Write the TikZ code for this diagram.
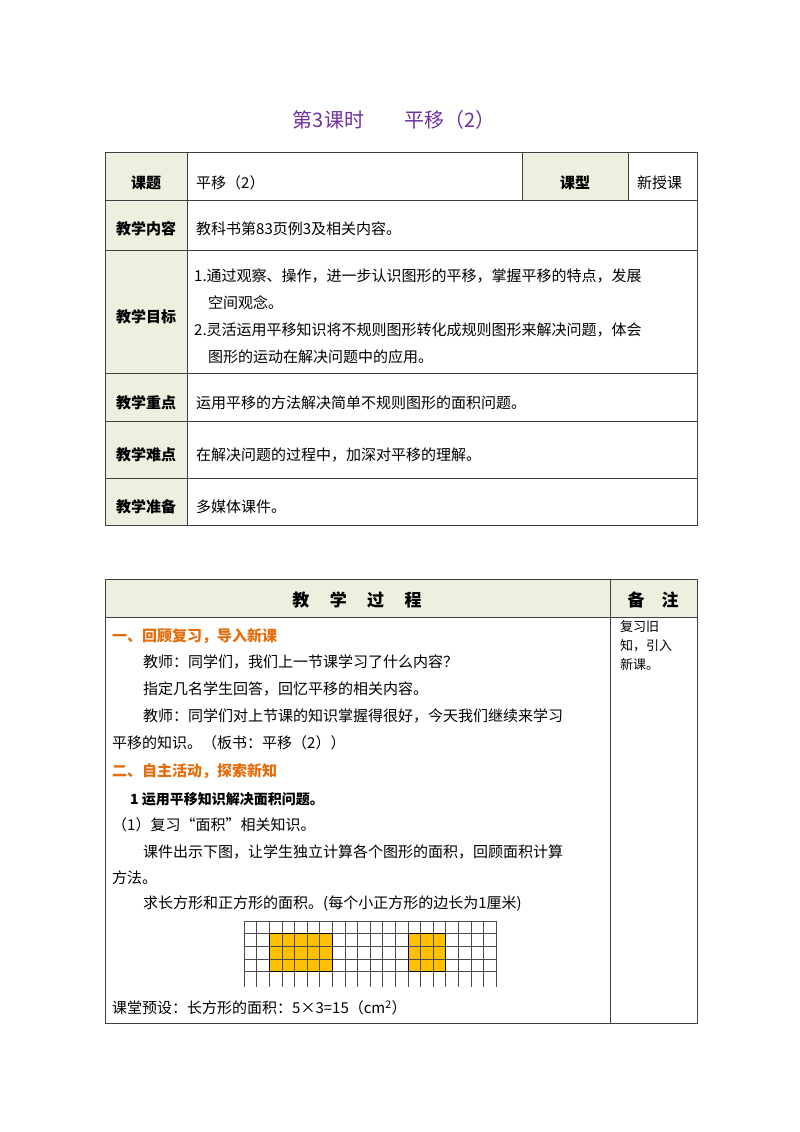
\documentclass[tikz,border=0pt]{standalone}
\usepackage{fontspec}
\setmainfont{Noto Sans CJK SC}
\newfontfamily\cjkb[FakeBold=2]{Noto Sans CJK SC}
\begin{document}
\begin{tikzpicture}[x=1pt,y=-1pt,
  t/.style={anchor=west,inner sep=0,font=\fontsize{15}{15}\selectfont},
  lab/.style={anchor=center,inner sep=0,font=\fontsize{15}{15}\selectfont\bfseries},
  hd/.style={anchor=west,inner sep=0,font=\fontsize{15}{15}\selectfont\bfseries,text=orangeH},
  ln/.style={draw=black!75,line width=0.8pt}]
\definecolor{titleP}{HTML}{7030A0}
\definecolor{labBG}{HTML}{EBF1DE}
\definecolor{orangeH}{HTML}{E46C0A}
\definecolor{fillY}{HTML}{FFC000}
\useasboundingbox (0,0) rectangle (800,1132);
\node[inner sep=0,font=\fontsize{20}{20}\selectfont,text=titleP] (title) at (394,120) {第3课时\hspace{2em}平移（2）};
% table 1
\fill[labBG] (105,152) rectangle (187,525);
\fill[labBG] (522,152) rectangle (628,200);
\draw[ln] (105,152) rectangle (697,525);
\foreach \y in {200,250,373,421,478} \draw[ln] (105,\y) -- (697,\y);
\draw[ln] (187,152) -- (187,525);
\draw[ln] (522,152) -- (522,200);
\draw[ln] (628,152) -- (628,200);
\node[lab] (l1) at (146,183) {课题};
\node[lab] (l2) at (146,229) {教学内容};
\node[lab] (l3) at (146,317) {教学目标};
\node[lab] (l4) at (146,403) {教学重点};
\node[lab] (l5) at (146,455) {教学难点};
\node[lab] (l6) at (146,507) {教学准备};
\node[lab] (l7) at (575,183) {课型};
\node[t] (v1) at (196,183) {平移（2）};
\node[t] (v7) at (637,183) {新授课};
\node[t] (v2) at (196,229) {教科书第83页例3及相关内容。};
\node[t] (v3a) at (194,276) {1.通过观察、操作，进一步认识图形的平移，掌握平移的特点，发展};
\node[t] (v3b) at (208,303) {空间观念。};
\node[t] (v3c) at (194,330) {2.灵活运用平移知识将不规则图形转化成规则图形来解决问题，体会};
\node[t] (v3d) at (208,357) {图形的运动在解决问题中的应用。};
\node[t] (v4) at (196,403) {运用平移的方法解决简单不规则图形的面积问题。};
\node[t] (v5) at (196,455) {在解决问题的过程中，加深对平移的理解。};
\node[t] (v6) at (196,507) {多媒体课件。};
% table 2
\fill[labBG] (105,579) rectangle (697,617);
\draw[ln] (105,579) rectangle (697,1023);
\draw[ln] (105,617) -- (697,617);
\draw[ln] (610,579) -- (610,1023);
\node[lab,font=\fontsize{17}{17}\selectfont\bfseries] (h1) at (357,600) {教\hspace{1.2em}学\hspace{1.2em}过\hspace{1.2em}程};
\node[lab,font=\fontsize{17}{17}\selectfont\bfseries] (h2) at (653,600) {备\hspace{1em}注};
\node[anchor=north west,inner sep=0,align=left,font=\fontsize{13}{19}\selectfont] (rm) at (620,620) {复习旧\\知，引入\\新课。};
\node[hd] (s1) at (112,636) {一、回顾复习，导入新课};
\node[t] (p1) at (143,662) {教师：同学们，我们上一节课学习了什么内容？};
\node[t] (p2) at (143,689) {指定几名学生回答，回忆平移的相关内容。};
\node[t] (p3) at (143,716) {教师：同学们对上节课的知识掌握得很好，今天我们继续来学习};
\node[t] (p4) at (112,743) {平移的知识。（板书：平移（2））};
\node[hd] (s2) at (112,771) {二、自主活动，探索新知};
\node[t,font=\fontsize{14}{14}\selectfont\bfseries] (p5) at (130,799) {1 运用平移知识解决面积问题。};
\node[t] (p6) at (112,825) {（1）复习“面积”相关知识。};
\node[t] (p7) at (143,852) {课件出示下图，让学生独立计算各个图形的面积，回顾面积计算};
\node[t] (p8) at (112,878) {方法。};
\node[t] (p9) at (143,904) {求长方形和正方形的面积。(每个小正方形的边长为1厘米)};
% grid
\fill[fillY] (269.2,933.6) rectangle (332.2,971.4);
\fill[fillY] (408,933.6) rectangle (445.8,971.4);
\foreach \i in {0,...,20} \draw[black!70,line width=0.6pt] (244+12.6*\i,921) -- (244+12.6*\i,987);
\foreach \j in {0,...,4} \draw[black!70,line width=0.6pt] (244,921+12.6*\j) -- (496,921+12.6*\j);
\draw[black,line width=0.8pt] (269.2,933.6) rectangle (332.2,971.4);
\draw[black,line width=0.8pt] (408,933.6) rectangle (445.8,971.4);
\node[t] (p10) at (112,1008) {课堂预设：长方形的面积：5×3=15（cm\textsuperscript{2}）};
\end{tikzpicture}
\end{document}
